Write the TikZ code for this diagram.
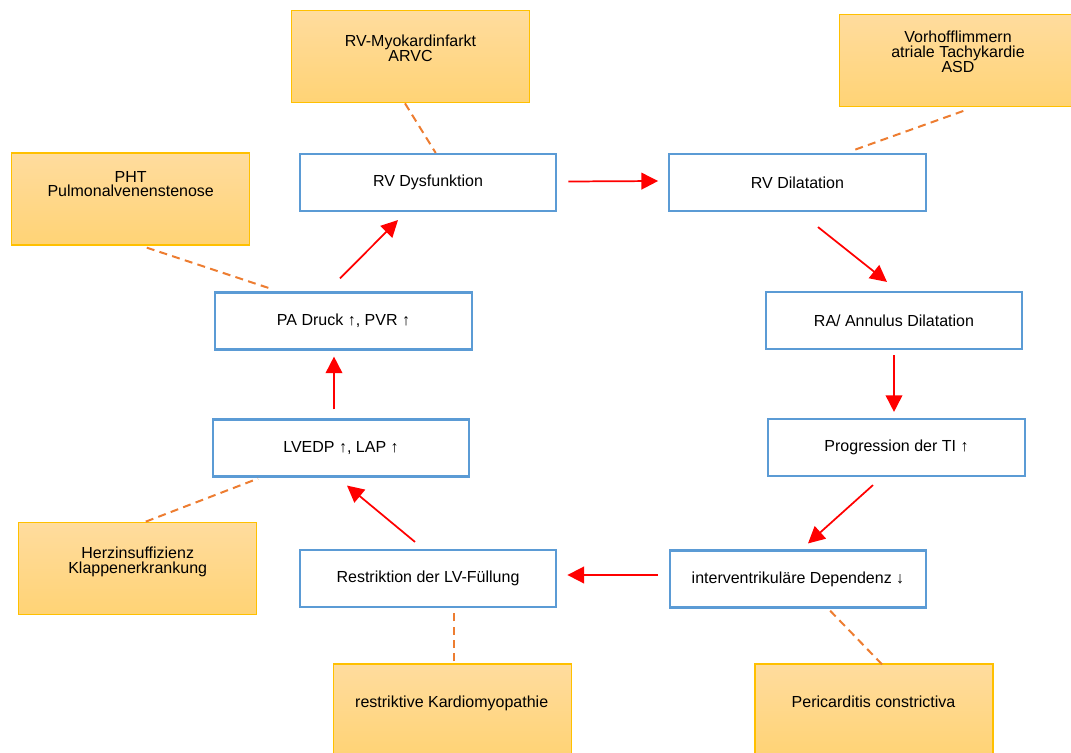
\documentclass[tikz,border=0pt]{standalone}
\usepackage{fontspec}
\setmainfont{Liberation Sans}
\usetikzlibrary{arrows.meta,shapes.geometric}
\definecolor{boxblue}{HTML}{5B9BD5}
\definecolor{obordr}{HTML}{FFC000}
\definecolor{otop}{HTML}{FFDC9E}
\definecolor{obot}{HTML}{FFD375}
\definecolor{dashor}{HTML}{ED7D31}
\definecolor{arrred}{HTML}{FF0000}
\tikzset{
  bluebox/.style={draw=boxblue, line width=1.6pt, fill=white, minimum width=192.5pt, minimum height=42.75pt, inner sep=0pt, font=\fontsize{12}{14}\selectfont},
  orbox/.style={draw=obordr, line width=1pt, top color=otop, bottom color=obot, minimum width=178.5pt, minimum height=69pt, inner sep=0pt},
  ortext/.style={align=center, inner sep=0pt, font=\fontsize{12}{11}\selectfont},
  redarr/.style={draw=arrred, line width=1.3pt, -{Triangle[length=12.5pt,width=12.5pt]}},
  ordash/.style={draw=dashor, line width=1.5pt, dash pattern=on 6pt off 4pt},
}
\begin{document}
\begin{tikzpicture}[x=0.75pt,y=-0.75pt]
\useasboundingbox (0,0) rectangle (1071,753);
\clip (0,0) rectangle (1071,753);
% orange cause boxes
\node[orbox] (o1) at (410.8,56.7) {};
\node[ortext] (t1) at (410.5,48) {RV-Myokardinfarkt\\ARVC};
\node[orbox] (o2) at (958.3,60.3) {};
\node[ortext] (t2) at (958,51.7) {Vorhofflimmern\\atriale Tachykardie\\ASD};
\node[orbox] (o3) at (130.8,199) {};
\node[ortext] (t3) at (130.7,184) {PHT\\Pulmonalvenenstenose};
\node[orbox] (o4) at (137.8,568.3) {};
\node[ortext] (t4) at (137.7,562) {Herzinsuffizienz\\Klappenerkrankung};
\node[orbox] (o5) at (452.5,710) {};
\node[ortext] (t5) at (451.7,703.5) {restriktive Kardiomyopathie};
\node[orbox] (o6) at (874,710) {};
\node[ortext] (t6) at (873.5,702) {Pericarditis constrictiva};
% blue process boxes
\node[bluebox] (rvd) at (428,182.5) {RV Dysfunktion};
\node[bluebox] (rvdil) at (797.5,182.5) {RV Dilatation};
\node[bluebox] (pa) at (343.5,321) {PA Druck \textuparrow, PVR \textuparrow};
\node[bluebox] (ra) at (894,320.5) {RA/ Annulus Dilatation};
\node[bluebox] (lv) at (341,448) {LVEDP \textuparrow, LAP \textuparrow};
\node[bluebox] (ti) at (896.5,447.5) {Progression der TI \textuparrow};
\node[bluebox] (restr) at (428,578.5) {Restriktion der LV-F\"ullung};
\node[bluebox] (iv) at (798,579) {interventrikul\"are Dependenz \textdownarrow};
% dashed links
\draw[ordash] ([shift={(-5.8,0)}]o1.south) -- ([shift={(7.7,0)}]rvd.north);
\draw[ordash] ([shift={(5,4)}]o2.south) -- ([shift={(54,-2)}]rvdil.north);
\draw[ordash] ([shift={(16,2)}]o3.south) -- ([shift={(-73.5,-3)}]pa.north);
\draw[ordash] ([shift={(8,0)}]o4.north) -- ([shift={(-83,1)}]lv.south);
\draw[ordash] ([shift={(1.5,-2)}]o5.north) -- ([shift={(26,3)}]restr.south);
\draw[ordash] ([shift={(8,1)}]o6.north) -- ([shift={(32,2)}]iv.south);
% red arrows
\draw[redarr] ([shift={(11,-1)}]rvd.east) -- ([shift={(-10,-1.5)}]rvdil.west);
\draw[redarr] ([shift={(20.5,15)}]rvdil.south) -- ([shift={(-7,-9)}]ra.north);
\draw[redarr] ([shift={(0,5)}]ra.south) -- ([shift={(-2.5,-6)}]ti.north);
\draw[redarr] ([shift={(-23.5,8)}]ti.south) -- ([shift={(10,-6)}]iv.north);
\draw[redarr] ([shift={(-10.5,-4)}]iv.west) -- ([shift={(10,-3.5)}]restr.east);
\draw[redarr] ([shift={(-13,-7)}]restr.north) -- ([shift={(6,8)}]lv.south);
\draw[redarr] ([shift={(-7,-9)}]lv.north) -- ([shift={(-9.5,6)}]pa.south);
\draw[redarr] ([shift={(-3.5,-13)}]pa.north) -- ([shift={(-30,8)}]rvd.south);
\end{tikzpicture}
\end{document}
